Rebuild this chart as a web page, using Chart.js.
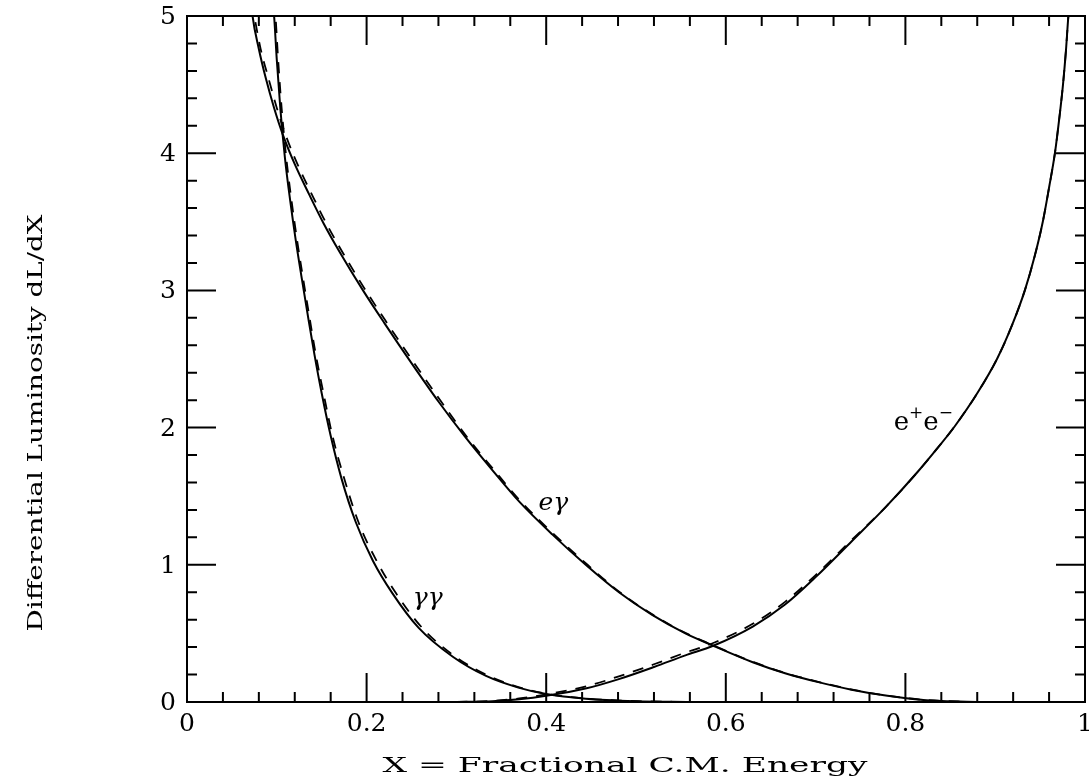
<!DOCTYPE html>
<html>
<head>
<meta charset="utf-8">
<script src="https://cdn.jsdelivr.net/npm/chart.js@4.4.1/dist/chart.umd.min.js"></script>
<style>
  html, body { margin: 0; padding: 0; background: #fff; }
  #wrap { width: 1089px; height: 782px; }
</style>
</head>
<body>
<div id="wrap"><canvas id="lumiChart" width="1089" height="782"></canvas></div>
<script>
// gamma-gamma luminosity (solid, and dashed read at the same heights)
const ggX     = [0.0955, 0.097, 0.100, 0.104, 0.109, 0.115, 0.121, 0.128, 0.135, 0.142, 0.150, 0.160, 0.172, 0.188, 0.207, 0.229, 0.258, 0.296, 0.333, 0.369, 0.400, 0.444, 0.500, 0.560];
const ggDashX = [0.0965, 0.0985, 0.1015, 0.1055, 0.1105, 0.1165, 0.1225, 0.1295, 0.1365, 0.1435, 0.152, 0.162, 0.175, 0.191, 0.211, 0.233, 0.262, 0.299, 0.336, 0.371, 0.402, 0.446, 0.502, 0.560];
const ggY     = [5.1, 5.0, 4.68, 4.32, 3.97, 3.65, 3.37, 3.08, 2.80, 2.53, 2.25, 1.94, 1.63, 1.31, 1.03, 0.79, 0.54, 0.33, 0.19, 0.105, 0.058, 0.024, 0.006, 0];

// e-gamma luminosity
const egX     = [0.0715, 0.073, 0.080, 0.088, 0.097, 0.107, 0.120, 0.136, 0.152, 0.170, 0.196, 0.220, 0.250, 0.280, 0.310, 0.340, 0.370, 0.407, 0.444, 0.481, 0.518, 0.555, 0.586, 0.630, 0.666, 0.703, 0.740, 0.780, 0.820, 0.860, 0.890];
const egDashX = [0.0725, 0.075, 0.082, 0.091, 0.100, 0.110, 0.123, 0.139, 0.155, 0.173, 0.199, 0.223, 0.253, 0.283, 0.312, 0.342, 0.372, 0.409, 0.446, 0.482, 0.519, 0.556, 0.587, 0.631, 0.667, 0.704, 0.741, 0.781, 0.821, 0.861, 0.890];
const egY     = [5.1, 5.0, 4.76, 4.54, 4.33, 4.13, 3.92, 3.70, 3.49, 3.28, 3.00, 2.76, 2.47, 2.19, 1.93, 1.69, 1.46, 1.22, 1.00, 0.80, 0.635, 0.50, 0.41, 0.29, 0.21, 0.145, 0.09, 0.045, 0.015, 0.003, 0];

// e+e- luminosity
const eeX     = [0.30, 0.34, 0.37, 0.40, 0.445, 0.48, 0.52, 0.555, 0.586, 0.630, 0.666, 0.700, 0.740, 0.778, 0.814, 0.835, 0.855, 0.880, 0.902, 0.919, 0.933, 0.944, 0.953, 0.960, 0.9665, 0.9713, 0.9755, 0.9788, 0.9815, 0.983];
const eeY     = [0, 0.006, 0.02, 0.045, 0.10, 0.165, 0.255, 0.34, 0.41, 0.55, 0.71, 0.91, 1.17, 1.42, 1.68, 1.845, 2.01, 2.25, 2.5, 2.75, 3.0, 3.25, 3.5, 3.75, 4.0, 4.25, 4.5, 4.75, 5.0, 5.1];
const eeDashY = [0, 0.008, 0.026, 0.056, 0.115, 0.185, 0.275, 0.36, 0.43, 0.57, 0.73, 0.925, 1.18, 1.42, 1.68, 1.845, 2.01, 2.25, 2.5, 2.75, 3.0, 3.25, 3.5, 3.75, 4.0, 4.25, 4.5, 4.75, 5.0, 5.1];

// axes
const xTicks = [0, 0.2, 0.4, 0.6, 0.8, 1];
const xTickLabels = ['0', '0.2', '0.4', '0.6', '0.8', '1'];
const yTicks = [0, 1, 2, 3, 4, 5];
const yTickLabels = ['0', '1', '2', '3', '4', '5'];
const xMinorStep = 0.04;
const yMinorStep = 0.2;
const xTitle = 'X = Fractional C.M. Energy';
const yTitle = 'Differential Luminosity dL/dX';

const FONT = '"DejaVu Serif", serif';

function pts(xs, ys) {
	return xs.map((x, i) => ({ x: x, y: ys[i] }));
}

function line(xs, ys, dashed) {
	return {
		data: pts(xs, ys),
		showLine: true,
		borderColor: '#000',
		borderWidth: dashed ? 1.8 : 2,
		borderDash: dashed ? [11, 9] : [],
		pointRadius: 0,
		cubicInterpolationMode: 'monotone',
		fill: false
	};
}

// text squeezed/stretched to a given width
function fitText(ctx, text, cx, cy, width, rotate) {
	ctx.save();
	ctx.translate(cx, cy);
	if (rotate)
		ctx.rotate(-Math.PI / 2);
	const w = ctx.measureText(text).width;
	ctx.scale(width / w, 1);
	ctx.textAlign = 'center';
	ctx.textBaseline = 'middle';
	ctx.fillText(text, 0, 0);
	ctx.restore();
}

const frameAndText = {
	id: 'frameAndText',
	afterDatasetsDraw(chart) {
		const { ctx, chartArea: a, scales: { x, y } } = chart;
		const majorLen = 29, minorLen = 10;
		ctx.save();
		ctx.strokeStyle = '#000';
		ctx.fillStyle = '#000';
		ctx.lineWidth = 2;
		ctx.strokeRect(a.left, a.top, a.right - a.left, a.bottom - a.top);

		ctx.beginPath();
		for (let i = 0; i <= Math.round(1 / xMinorStep); i++) {
			const px = x.getPixelForValue(i * xMinorStep);
			const len = (i % 5 === 0) ? majorLen : minorLen;
			ctx.moveTo(px, a.bottom); ctx.lineTo(px, a.bottom - len);
			ctx.moveTo(px, a.top); ctx.lineTo(px, a.top + len);
		}
		for (let i = 0; i <= Math.round(5 / yMinorStep); i++) {
			const py = y.getPixelForValue(i * yMinorStep);
			const len = (i % 5 === 0) ? majorLen : minorLen;
			ctx.moveTo(a.left, py); ctx.lineTo(a.left + len, py);
			ctx.moveTo(a.right, py); ctx.lineTo(a.right - len, py);
		}
		ctx.stroke();

		// tick labels
		ctx.font = '25px ' + FONT;
		ctx.textBaseline = 'alphabetic';
		ctx.textAlign = 'center';
		xTicks.forEach((v, i) => {
			ctx.fillText(xTickLabels[i], x.getPixelForValue(v), a.bottom + 29);
		});
		ctx.textAlign = 'right';
		yTicks.forEach((v, i) => {
			ctx.fillText(yTickLabels[i], a.left - 11, y.getPixelForValue(v) + 8);
		});

		// axis titles
		ctx.font = '21px ' + FONT;
		fitText(ctx, xTitle, 625, 767, 485, false);
		fitText(ctx, yTitle, 37, 423, 417, true);

		// curve labels
		ctx.textAlign = 'center';
		ctx.textBaseline = 'alphabetic';
		ctx.font = 'italic 25px ' + FONT;
		ctx.fillText('e\u03b3', x.getPixelForValue(0.408), y.getPixelForValue(1.45) + 7);
		ctx.fillText('\u03b3\u03b3', x.getPixelForValue(0.268), y.getPixelForValue(0.74) + 5);

		// e+e- with superscripts
		ctx.textAlign = 'left';
		let px = x.getPixelForValue(0.787);
		const base = y.getPixelForValue(1.98);
		ctx.font = '26px ' + FONT;
		ctx.fillText('e', px, base);
		px += ctx.measureText('e').width;
		ctx.font = '17px ' + FONT;
		ctx.fillText('+', px, base - 12);
		px += ctx.measureText('+').width;
		ctx.font = '26px ' + FONT;
		ctx.fillText('e', px, base);
		px += ctx.measureText('e').width;
		ctx.font = '17px ' + FONT;
		ctx.fillText('\u2212', px, base - 12);
		ctx.restore();
	}
};

const ctx = document.getElementById('lumiChart').getContext('2d');
new Chart(ctx, {
	type: 'scatter',
	data: {
		datasets: [
			line(ggDashX, ggY, true),
			line(egDashX, egY, true),
			line(eeX, eeDashY, true),
			line(ggX, ggY, false),
			line(egX, egY, false),
			line(eeX, eeY, false)
		]
	},
	options: {
		responsive: false,
		animation: false,
		devicePixelRatio: 1,
		layout: { padding: { top: 16, right: 4, left: 0, bottom: 0 } },
		plugins: {
			legend: { display: false },
			tooltip: { enabled: false }
		},
		scales: {
			x: {
				type: 'linear',
				min: 0,
				max: 1,
				grid: { display: false, drawTicks: false },
				border: { display: false },
				ticks: { display: false },
				afterFit: (scale) => { scale.height = 80; }
			},
			y: {
				type: 'linear',
				min: 0,
				max: 5,
				grid: { display: false, drawTicks: false },
				border: { display: false },
				ticks: { display: false },
				afterFit: (scale) => { scale.width = 187; }
			}
		}
	},
	plugins: [frameAndText]
});
</script>
</body>
</html>
